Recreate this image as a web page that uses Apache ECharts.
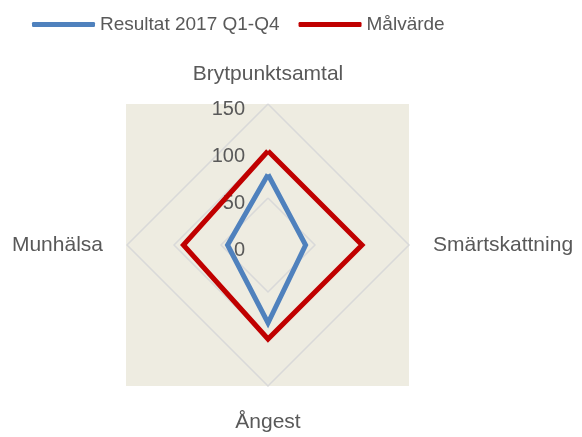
<!DOCTYPE html>
<html>
<head>
<meta charset="utf-8">
<script src="https://cdn.jsdelivr.net/npm/echarts@6/dist/echarts.min.js"></script>
<style>
  html, body { margin: 0; padding: 0; background: #fff; }
  #chart { width: 582px; height: 437px; }
</style>
</head>
<body>
<div id="chart"></div>
<script>
// indikatorer, medurs från toppen
const indicators = ['Brytpunktsamtal', 'Smärtskattning', 'Ångest', 'Munhälsa']
const axisMax = 150
const seriesNames = ['Resultat 2017 Q1-Q4', 'Målvärde']
const resultat = [75, 40, 83, 43]
const malvarde = [100, 100, 100, 90]

// ECharts ritar radarn moturs -> vänd ordningen (toppen först)
const ccw = arr => [arr[0]].concat(arr.slice(1).reverse())

const textColor = '#595959'
const nameGaps = { 'Brytpunktsamtal': 19, 'Ångest': 26 }
const chart = echarts.init(document.getElementById('chart'))

const option = {
  animation: false,
  textStyle: { fontFamily: 'Liberation Sans' },
  graphic: [
    {
      type: 'rect',
      z: -10,
      shape: { x: 126, y: 104, width: 283, height: 282 },
      style: { fill: '#eeece1' }
    }
  ],
  legend: {
    left: 27,
    top: 10,
    itemWidth: 63,
    itemHeight: 5,
    itemGap: 19,
    icon: 'roundRect',
    textStyle: { color: textColor, fontSize: 19, fontFamily: 'Liberation Sans' },
    data: seriesNames
  },
  radar: {
    center: [268, 245],
    radius: 141,
    shape: 'polygon',
    splitNumber: 3,
    startAngle: 90,
    nameGap: 24,
    axisName: { color: textColor, fontSize: 21, fontFamily: 'Liberation Sans' },
    axisLine: { show: false },
    axisTick: { show: false },
    axisLabel: { show: false },
    splitArea: { show: false },
    splitLine: { lineStyle: { color: '#d9d9d9', width: 1.5 } },
    indicator: ccw(indicators).map((name, i) => {
      const ind = { name: name, min: 0, max: axisMax }
      if (nameGaps[name] != null) ind.nameGap = nameGaps[name]
      if (i === 0) {
        ind.axisLabel = {
          show: true, color: textColor, fontSize: 20, margin: 23,
          verticalAlign: 'top', lineHeight: 10,
          showMinLabel: true, showMaxLabel: true
        }
      }
      return ind
    })
  },
  series: [
    {
      type: 'radar',
      symbol: 'none',
      data: [
        {
          name: seriesNames[0],
          value: ccw(resultat),
          itemStyle: { color: '#4f81bd' },
          lineStyle: { color: '#4f81bd', width: 5, join: 'miter', miterLimit: 10 }
        },
        {
          name: seriesNames[1],
          value: ccw(malvarde),
          itemStyle: { color: '#c00000' },
          lineStyle: { color: '#c00000', width: 5, join: 'miter', miterLimit: 10 }
        }
      ]
    }
  ]
}

chart.setOption(option)
</script>
</body>
</html>
